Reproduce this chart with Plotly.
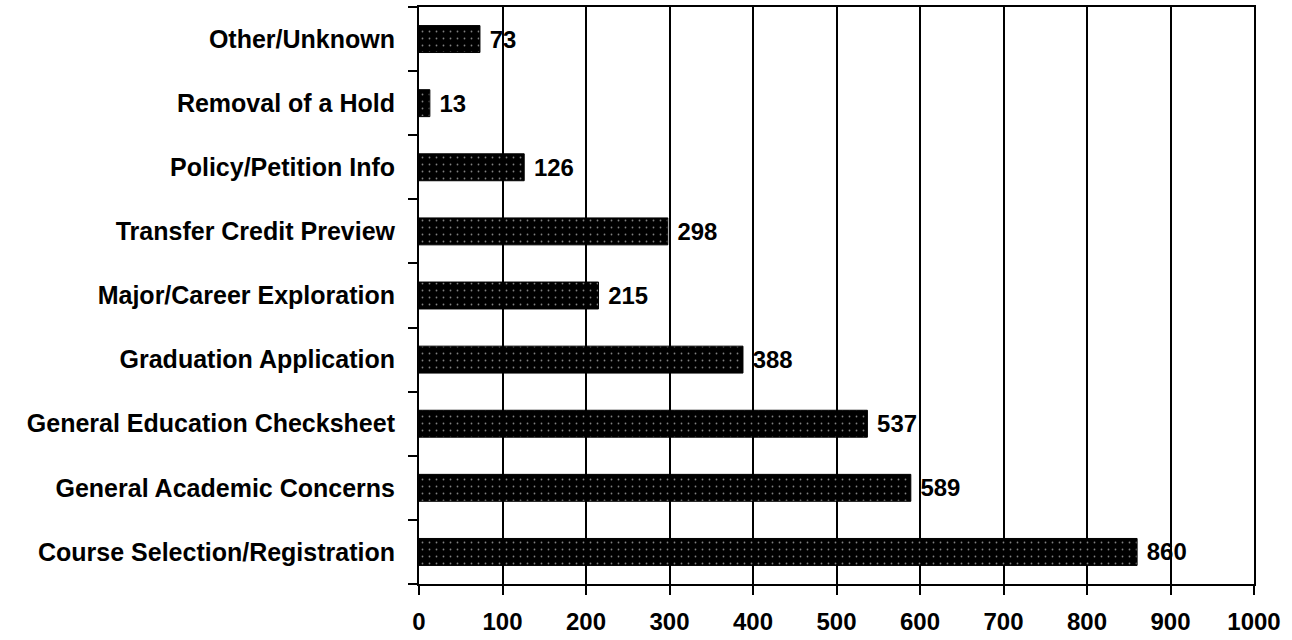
import plotly.graph_objects as go

categories = ["Course Selection/Registration", "General Academic Concerns",
              "General Education Checksheet", "Graduation Application",
              "Major/Career Exploration", "Transfer Credit Preview",
              "Policy/Petition Info", "Removal of a Hold", "Other/Unknown"]
values = [860, 589, 537, 388, 215, 298, 126, 13, 73]
x_ticks = [0, 100, 200, 300, 400, 500, 600, 700, 800, 900, 1000]

font = dict(family="Liberation Sans, Arial", size=24, color="black")
yfont = dict(family="Liberation Sans, Arial", size=25, color="black")

fig = go.Figure(go.Bar(
    x=values, y=categories, orientation="h",
    text=[str(v) for v in values], textposition="outside",
    texttemplate=" <b>%{text}</b>",
    textfont=font,
    cliponaxis=False,
    marker=dict(color="black", line=dict(color="black", width=1),
                pattern=dict(shape=".", fgcolor="white", bgcolor="black",
                             fillmode="overlay", size=7, solidity=0.05)),
))

fig.update_layout(
    width=1292, height=640,
    margin=dict(l=419, r=38, t=5, b=52),
    paper_bgcolor="white", plot_bgcolor="white",
    bargap=0.58, showlegend=False,
    font=font,
)
fig.update_xaxes(range=[0, 1000], tickvals=x_ticks, ticktext=[f"<b>{t}</b>" for t in x_ticks],
                 showgrid=True, gridcolor="black", gridwidth=1.5,
                 showline=True, linecolor="black", linewidth=2, mirror=True,
                 ticks="outside", ticklen=9, tickwidth=1.5, tickcolor="black",
                 zeroline=False, tickfont=font, ticklabelstandoff=6)
fig.update_yaxes(type="category", categoryorder="array", categoryarray=categories,
                 tickvals=categories, ticktext=[f"<b>{c}</b>" for c in categories],
                 showline=True, linecolor="black", linewidth=2, mirror=True,
                 ticks="outside", ticklen=9, tickwidth=1.5, tickcolor="black",
                 tickson="boundaries", showgrid=False, tickfont=yfont,
                 ticklabelstandoff=17)

fig.write_html("out.html")
